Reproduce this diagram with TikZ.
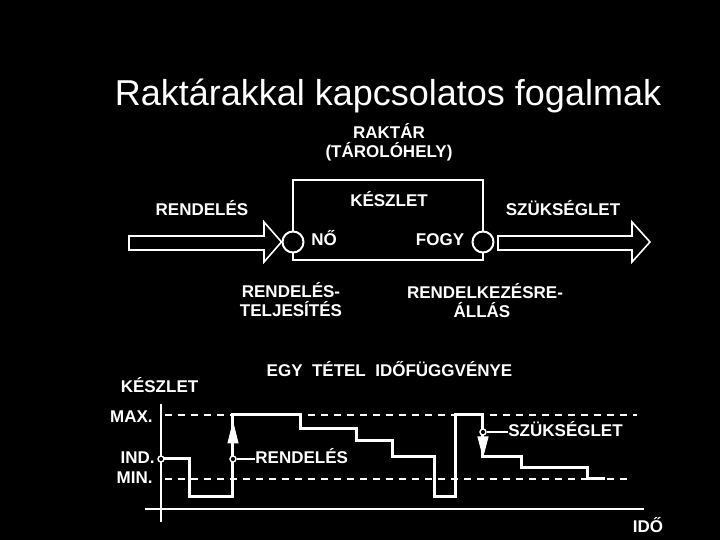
\documentclass[tikz,border=0pt]{standalone}
\usepackage{fontspec}
\setmainfont{Liberation Sans}
\begin{document}
\begin{tikzpicture}[x=0.5pt,y=-0.5pt,
  lbl/.style={text=white,font=\bfseries\fontsize{8.5}{10}\selectfont,inner sep=0pt,anchor=base},
  bigarrow/.style={draw=white,line width=0.8pt,line join=miter},
  port/.style={circle,draw=white,fill=black,line width=1pt,minimum size=10.5pt,inner sep=0pt},
  dot/.style={circle,draw=white,fill=black,line width=0.7pt,minimum size=3pt,inner sep=0pt},
  axis/.style={draw=white,line width=1pt},
  level/.style={draw=white,line width=0.9pt,dash pattern=on 3.5pt off 3pt},
  curve/.style={draw=white,line width=1.5pt,line join=miter},
  head/.style={fill=white,draw=white,line width=0.5pt,line join=miter},
  lead/.style={draw=white,line width=0.8pt}]
\fill[black] (0,0) rectangle (720,540);
\useasboundingbox (0,0) rectangle (720,540);

% title
\node[text=white,font=\fontsize{18}{21}\selectfont,anchor=base,inner sep=0pt] (title) at (388,106) {Raktárakkal kapcsolatos fogalmak};

% top diagram
\node[lbl] (raktar) at (389,139) {RAKTÁR};
\node[lbl] (tarolo) at (389,158) {(TÁROLÓHELY)};
\node (box) [draw=white,line width=1.4pt,minimum width=95pt,minimum height=40pt,inner sep=0pt] at (388,220) {};
\node[lbl] (keszlet) at (389,207) {KÉSZLET};
\node[port] (cin) at (293,242) {};
\node[port] (cout) at (483,242) {};
\node[lbl] (no) at (324,246) {NŐ};
\node[lbl] (fogy) at (440,246) {FOGY};
\node[lbl] (rend) at (202,216) {RENDELÉS};
\node[lbl] (szuk) at (563,216) {SZÜKSÉGLET};
\draw[bigarrow] (129,236) -- (264,236) -- (264,222) -- (cin.west) -- (264,262) -- (264,250) -- (129,250) -- cycle;
\draw[bigarrow] (498,236) -- (632,236) -- (632,222) -- (650,242) -- (632,262) -- (632,250) -- (498,250) -- cycle;
\node[lbl] (rt1) at (291,298) {RENDELÉS-};
\node[lbl] (rt2) at (291,317) {TELJESÍTÉS};
\node[lbl] (ra1) at (485,299) {RENDELKEZÉSRE-};
\node[lbl] (ra2) at (482,318) {ÁLLÁS};

% bottom diagram
\node[lbl] (egy) at (389.5,377) {EGY~~TÉTEL~~IDŐFÜGGVÉNYE};
\node[lbl] (kesz2) at (159.5,393) {KÉSZLET};
\node[lbl,anchor=base east] (max) at (153,423) {MAX.};
\node[lbl,anchor=base east] (ind) at (155,464) {IND.};
\node[lbl,anchor=base east] (min) at (153,484) {MIN.};
\node[lbl] (ido) at (648,533) {IDŐ};

\draw[axis] (161,404) -- (161,522);
\draw[axis] (145,509) -- (644,509);
\draw[level] (165,415) -- (637,415);
\draw[level] (165,479) -- (633,479);

\draw[curve] (161,459) -- (190,459) -- (190,497) -- (233,497) -- (233,415) -- (301,415)
  -- (301,429) -- (357,429) -- (357,441) -- (393,441) -- (393,457) -- (435,457)
  -- (435,497) -- (456,497) -- (456,415) -- (483,415) -- (483,457) -- (522,457)
  -- (522,468) -- (588,468) -- (588,479) -- (605,479);

\fill[head] (233,423) -- (238,443) -- (228,443) -- cycle;
\fill[head] (483,456) -- (488,437) -- (478,437) -- cycle;

\node[dot] (d0) at (161,459) {};
\node[dot] (d1) at (233,459) {};
\node[dot] (d2) at (483,432) {};
\node[lbl,anchor=base west] (rend2) at (255,464) {RENDELÉS};
\node[lbl,anchor=base west] (szuk2) at (508,437) {SZÜKSÉGLET};
\draw[lead] (d1.east) -- (d1.east -| rend2.west);
\draw[lead] (d2.east) -- (d2.east -| szuk2.west);
\end{tikzpicture}
\end{document}
